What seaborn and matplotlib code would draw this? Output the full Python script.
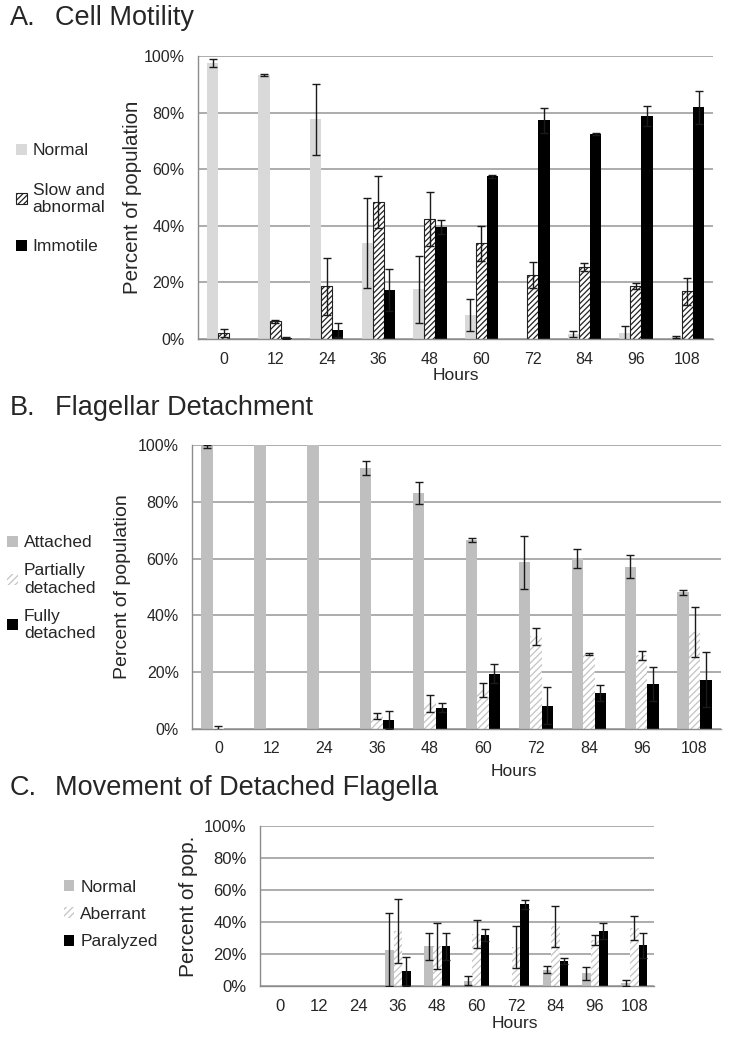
import numpy as np
import pandas as pd
import matplotlib
matplotlib.use('Agg')
import matplotlib.pyplot as plt
import seaborn as sns
from matplotlib.patches import Patch
from matplotlib.ticker import PercentFormatter, MultipleLocator

# Data (percent of population)
hours = ['0', '12', '24', '36', '48', '60', '72', '84', '96', '108']

a_names = ['Normal', 'Slow and abnormal', 'Immotile']
a_normal = [97.5, 93.3, 77.6, 33.9, 17.5, 8.5, 0, 1.8, 2.0, 0.6]
a_normal_err = [1.4, 0.2, 12.5, 16.0, 12.0, 5.8, 0, 1.2, 2.6, 0.3]
a_slow = [2.2, 6.2, 18.6, 48.5, 42.4, 33.8, 22.6, 25.4, 18.8, 16.8]
a_slow_err = [1.4, 0.6, 10.0, 9.2, 9.6, 6.2, 4.5, 1.5, 1.0, 4.7]
a_immotile = [0, 0.3, 3.2, 17.3, 39.5, 57.5, 77.3, 72.5, 78.7, 81.9]
a_immotile_err = [0, 0.4, 2.5, 7.3, 2.5, 0.6, 4.5, 0.3, 3.6, 5.9]

b_names = ['Attached', 'Partially detached', 'Fully detached']
b_attached = [99.5, 100, 100, 92.0, 83.1, 66.5, 58.7, 60.1, 57.2, 48.1]
b_attached_err = [0.5, 0, 0, 2.5, 3.9, 0.8, 9.4, 3.3, 4.2, 0.9]
b_partial = [0.3, 0, 0, 4.5, 9.0, 13.6, 32.6, 26.4, 26.0, 34.2]
b_partial_err = [0.6, 0, 0, 1.0, 3.0, 2.5, 2.9, 0.5, 1.6, 8.9]
b_full = [0, 0, 0, 3.2, 7.5, 19.5, 8.2, 12.7, 15.9, 17.4]
b_full_err = [0, 0, 0, 3.3, 1.5, 3.4, 6.6, 2.8, 6.0, 9.8]

c_names = ['Normal', 'Aberrant', 'Paralyzed']
c_normal = [0, 0, 0, 22.6, 24.9, 3.3, 0, 10.2, 7.9, 1.9]
c_normal_err = [0, 0, 0, 22.8, 8.4, 2.9, 0, 2.2, 3.9, 1.9]
c_aberrant = [0, 0, 0, 34.2, 24.9, 32.4, 24.3, 37.3, 28.8, 36.3]
c_aberrant_err = [0, 0, 0, 20.0, 14.3, 8.9, 13.0, 13.0, 2.9, 7.3]
c_paralyzed = [0, 0, 0, 9.1, 24.9, 31.9, 51.0, 15.6, 34.4, 25.5]
c_paralyzed_err = [0, 0, 0, 9.0, 8.4, 4.0, 2.9, 1.7, 5.2, 7.9]

sns.set_style('white')
plt.rcParams['font.family'] = ['Liberation Sans', 'DejaVu Sans']
plt.rcParams['hatch.linewidth'] = 0.9

fig = plt.figure(figsize=(7.33, 10.39), dpi=100)


def draw_panel(rect, names, series, errors, colors, hatch_idx, hatch, hatch_col, edge_col, edge_lw,
               ylabel, ylabel_size, ylabel_x, tick_size, xlabel_pos, leg_pos, leg_labels, leg_space):
    ax = fig.add_axes(rect)
    df = pd.DataFrame({
        'Hours': hours * 3,
        'Series': np.repeat(names, len(hours)),
        'Percent': np.concatenate(series),
    })
    sns.barplot(data=df, x='Hours', y='Percent', hue='Series', hue_order=names,
                palette=colors, width=0.65, saturation=1, errorbar=None,
                legend=False, linewidth=0, ax=ax)
    bar_conts = list(ax.containers)
    for i, cont in enumerate(bar_conts):
        err_all = np.array(errors[i])
        xs, ys, es = [], [], []
        for p in cont:
            xc = p.get_x() + p.get_width() / 2
            cat = int(round(xc))
            if i == hatch_idx:
                p.set_facecolor('white')
                p.set_hatch(hatch)
                p.set_linewidth(edge_lw)
                if hasattr(p, 'set_hatchcolor'):
                    p.set_hatchcolor(hatch_col)
                    p.set_edgecolor(edge_col)
                else:
                    p.set_edgecolor(hatch_col)
            if err_all[cat] > 0:
                xs.append(xc)
                ys.append(p.get_height())
                es.append(err_all[cat])
        ax.errorbar(xs, ys, yerr=es, fmt='none', ecolor='#1a1a1a',
                    elinewidth=1, capsize=2.8, capthick=1, zorder=5)

    ax.set_ylim(0, 100)
    ax.set_xlim(-0.5, 9.5)
    ax.yaxis.set_major_locator(MultipleLocator(20))
    ax.yaxis.set_major_formatter(PercentFormatter(decimals=0))
    ax.set_xticks(np.arange(-0.5, 10, 1), minor=True)
    ax.tick_params(axis='x', which='major', length=0, pad=9, labelsize=tick_size)
    ax.tick_params(axis='x', which='minor', length=5, color='#8c8c8c', direction='out')
    ax.tick_params(axis='y', length=5, color='#8c8c8c', direction='out',
                   labelsize=tick_size, pad=4.5)
    ax.grid(axis='y', color='#a6a6a6', linewidth=1.3)
    ax.set_axisbelow(True)
    for s in ['top', 'right']:
        ax.spines[s].set_visible(False)
    for s in ['left', 'bottom']:
        ax.spines[s].set_color('#8c8c8c')
        ax.spines[s].set_linewidth(1)
    ax.set_ylabel(ylabel, fontsize=ylabel_size)
    ax.yaxis.set_label_coords(ylabel_x, 0.5)
    ax.set_xlabel('Hours', fontsize=12.5)
    ax.xaxis.set_label_coords(*xlabel_pos)

    handles = []
    for i, lab in enumerate(leg_labels):
        if i == hatch_idx:
            h = Patch(facecolor='white', edgecolor=hatch_col, hatch=hatch, linewidth=edge_lw)
        else:
            h = Patch(facecolor=colors[i], edgecolor='none')
        handles.append(h)
    ax.legend(handles, leg_labels, loc='center left', bbox_to_anchor=leg_pos,
              bbox_transform=fig.transFigure, frameon=False, fontsize=12.5,
              handlelength=0.6, handleheight=0.6, handletextpad=0.35,
              labelspacing=leg_space, borderpad=0, borderaxespad=0)
    return ax


# Panel A
draw_panel([0.270, 0.6737, 0.703, 0.2724], a_names,
           [a_normal, a_slow, a_immotile], [a_normal_err, a_slow_err, a_immotile_err],
           ['#d9d9d9', 'white', 'black'], 1, '//////', '#222222', '#7f9fcf', 0.8,
           'Percent of population', 14.8, -0.109, 11.5, (0.5, -0.102),
           (0.022, 0.8085), ['Normal', 'Slow and\nabnormal', 'Immotile'], 1.4)

# Panel B
draw_panel([0.262, 0.2984, 0.7217, 0.2733], b_names,
           [b_attached, b_partial, b_full], [b_attached_err, b_partial_err, b_full_err],
           ['#bfbfbf', 'white', 'black'], 1, '/////', '#c4c4c4', '#c4c4c4', 0,
           'Percent of population', 14, -0.115, 11.5, (0.609, -0.123),
           (0.010, 0.434), ['Attached', 'Partially\ndetached', 'Fully\ndetached'], 0.75)

# Panel C
draw_panel([0.3547, 0.0510, 0.5375, 0.154], c_names,
           [c_normal, c_aberrant, c_paralyzed], [c_normal_err, c_aberrant_err, c_paralyzed_err],
           ['#bfbfbf', 'white', 'black'], 1, '/////', '#c4c4c4', '#c4c4c4', 0,
           'Percent of pop.', 15, -0.157, 12, (0.647, -0.1875),
           (0.087, 0.1198), ['Normal', 'Aberrant', 'Paralyzed'], 0.71)

# Panel titles
for y, letter, title in [(0.9827, 'A.', 'Cell Motility'),
                         (0.607, 'B.', 'Flagellar Detachment'),
                         (0.2416, 'C.', 'Movement of Detached Flagella')]:
    fig.text(10 / 733, y, letter, fontsize=19.5, va='center')
    fig.text(55 / 733, y, title, fontsize=19.5, va='center')

fig.savefig('out.png', dpi=100)
